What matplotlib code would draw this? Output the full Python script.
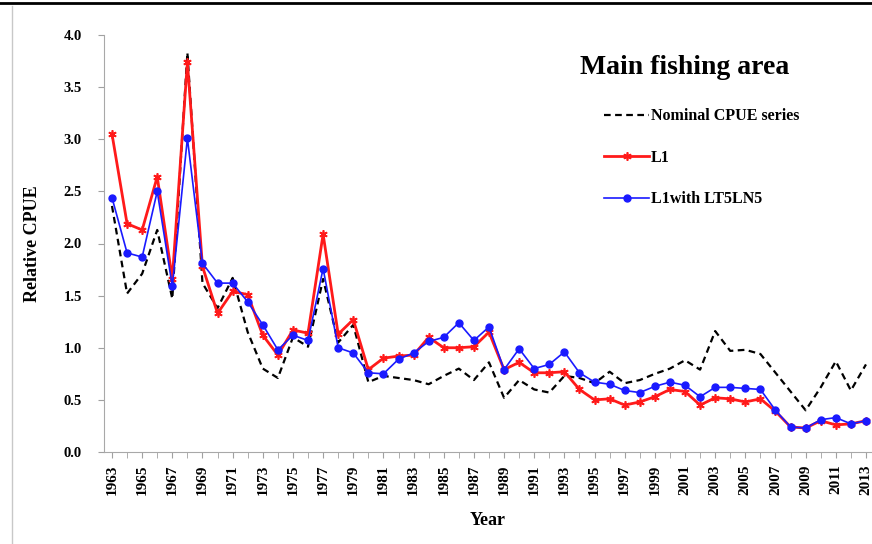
import numpy as np
import matplotlib
matplotlib.use('Agg')
import matplotlib.pyplot as plt
from matplotlib.lines import Line2D

plt.rcParams['font.family'] = ['Liberation Serif', 'DejaVu Serif']
plt.rcParams['font.weight'] = 'bold'

years = np.arange(1963, 2014)

nominal = [2.36, 1.52, 1.71, 2.13, 1.47, 3.83, 1.62, 1.38, 1.67, 1.15, 0.80, 0.71, 1.10, 1.01,
           1.66, 1.05, 1.22, 0.67, 0.73, 0.71, 0.69, 0.65, 0.73, 0.80, 0.69, 0.86, 0.52, 0.69,
           0.60, 0.57, 0.73, 0.71, 0.66, 0.77, 0.66, 0.69, 0.75, 0.80, 0.88, 0.79, 1.16, 0.97,
           0.98, 0.94, 0.76, 0.58, 0.40, 0.62, 0.87, 0.59, 0.84]
l1 = [3.05, 2.19, 2.13, 2.64, 1.66, 3.74, 1.78, 1.33, 1.54, 1.51, 1.12, 0.93, 1.17, 1.14,
      2.09, 1.13, 1.27, 0.79, 0.90, 0.92, 0.93, 1.10, 1.00, 1.00, 1.01, 1.15, 0.79, 0.86,
      0.76, 0.76, 0.77, 0.60, 0.50, 0.51, 0.45, 0.48, 0.53, 0.60, 0.58, 0.45, 0.52, 0.51,
      0.48, 0.51, 0.39, 0.24, 0.23, 0.30, 0.26, 0.27, 0.30]
l1_lt5ln5 = [2.44, 1.91, 1.87, 2.50, 1.59, 3.01, 1.81, 1.62, 1.62, 1.44, 1.22, 0.98, 1.12, 1.07,
             1.76, 1.00, 0.95, 0.76, 0.75, 0.89, 0.95, 1.06, 1.10, 1.24, 1.07, 1.20, 0.79, 0.99,
             0.80, 0.84, 0.96, 0.76, 0.67, 0.65, 0.59, 0.57, 0.63, 0.67, 0.64, 0.53, 0.62, 0.62,
             0.61, 0.60, 0.40, 0.24, 0.23, 0.31, 0.33, 0.27, 0.30]

fig = plt.figure(figsize=(8.72, 5.44), dpi=100)
ax = fig.add_axes([104/872, 1 - 452/544, 1 - 104/872, (452 - 35)/544])

ax.plot(years, nominal, color='black', linestyle=(0, (3, 2)), linewidth=1.6, zorder=2,
        label='Nominal CPUE series')
ax.plot(years, l1, color='#ff1a1a', linewidth=2.0, marker=(6, 2, 0), markersize=6,
        markeredgewidth=1.2, zorder=3, label='L1')
ax.plot(years, l1_lt5ln5, color='#1a1aff', linewidth=1.2, marker='o', markersize=5,
        zorder=4, label='L1with LT5LN5')

ax.set_xlim(1962.47, 2013.4)
ax.set_ylim(0, 4.0)
ax.set_yticks(np.arange(0, 4.01, 0.5))
ax.set_yticklabels(['%.1f' % v for v in np.arange(0, 4.01, 0.5)], fontsize=10.5, fontweight='bold')
ax.set_xticks(years[::2])
ax.set_xticklabels([str(y) for y in years[::2]], rotation=90, fontsize=11, fontweight='bold')
ax.set_xticks(years, minor=True)
ax.tick_params(axis='both', which='both', direction='out', color='#a0a0a0', length=4)
ax.tick_params(axis='y', pad=12)
ax.tick_params(axis='x', pad=5)
for s in ['top', 'right']:
    ax.spines[s].set_visible(False)
for s in ['left', 'bottom']:
    ax.spines[s].set_color('#a8a8a8')

ax.set_xlabel('Year', fontsize=13, fontweight='bold', labelpad=12)
ax.set_ylabel('Relative CPUE', fontsize=13, fontweight='bold', labelpad=16)

fig.text(685/872, 1 - 67/544, 'Main fishing area', fontsize=20, fontweight='bold',
         ha='center', va='center')
fig.legend(loc='upper left', bbox_to_anchor=(590/872, 1 - 94/544), frameon=False,
           handlelength=2.8, handletextpad=0.1, labelspacing=1.6,
           prop={'weight': 'bold', 'size': 11.5})

fig.add_artist(Line2D([0, 1], [1 - 3/544, 1 - 3/544], color='black', linewidth=2.0))
fig.add_artist(Line2D([12/872, 12/872], [0, 1 - 6/544], color='#c8c8c8', linewidth=1.0))

fig.savefig('out.png', dpi=100)
